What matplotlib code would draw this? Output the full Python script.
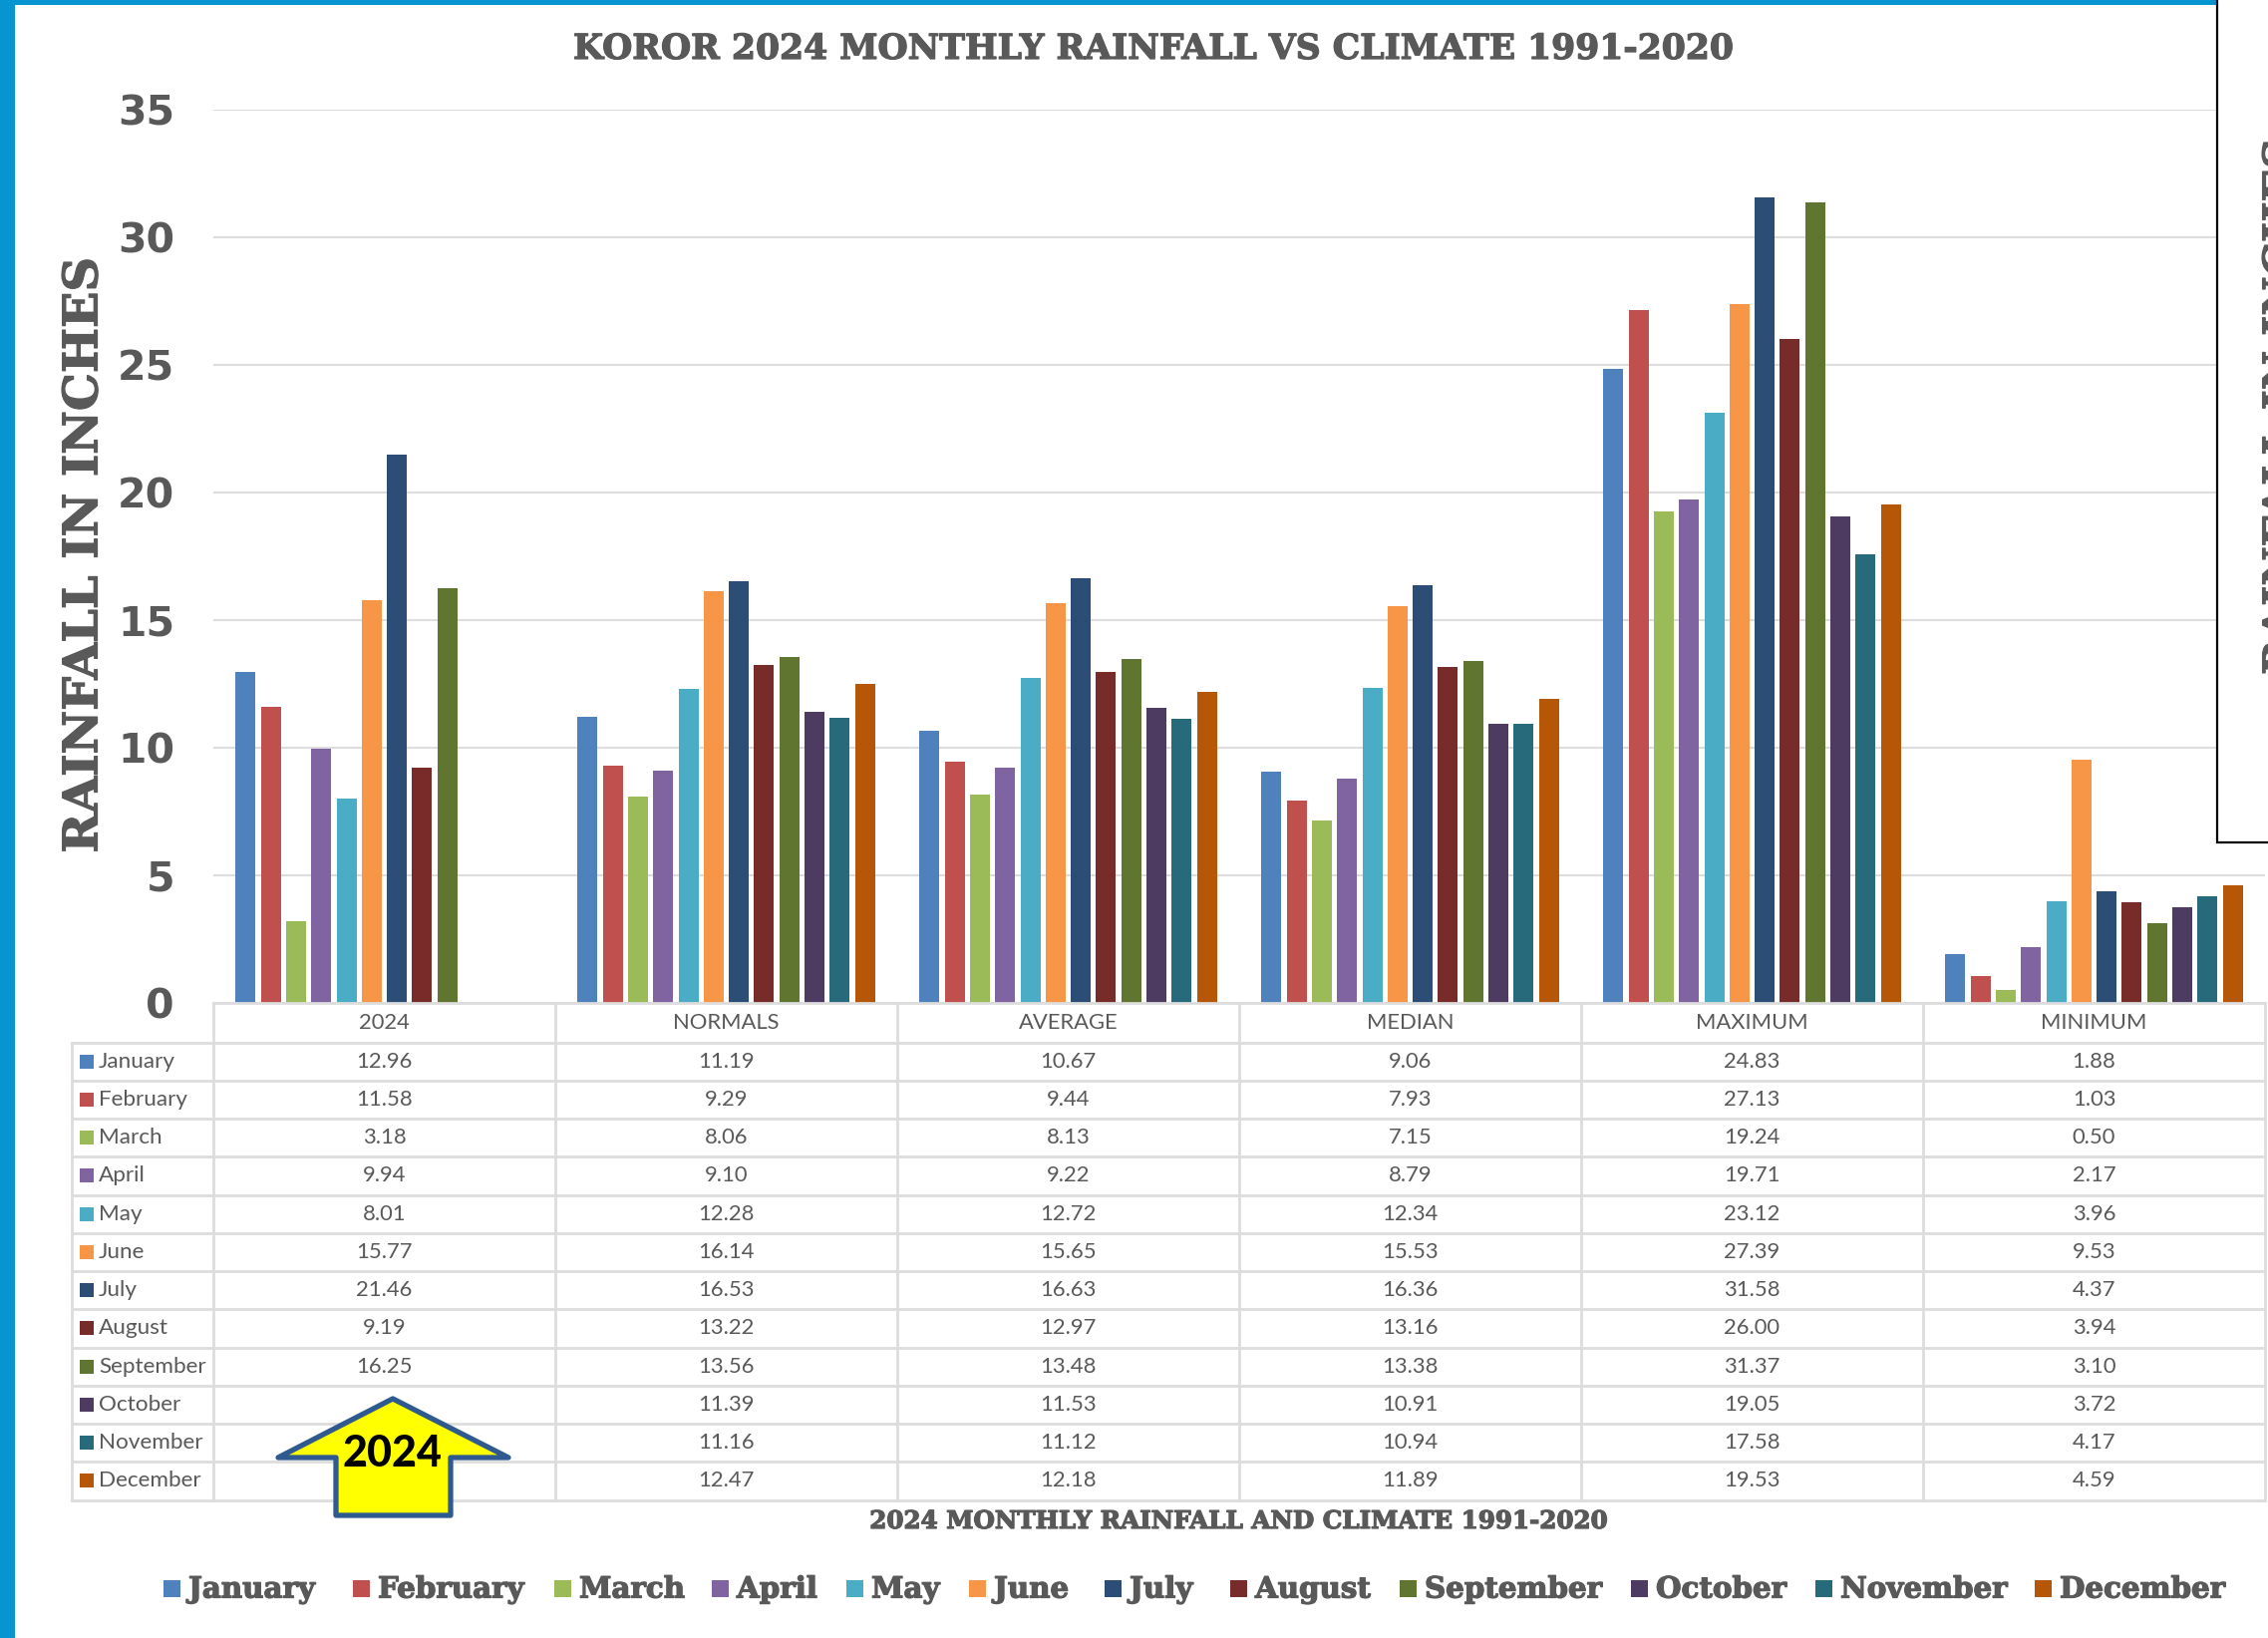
import numpy as np
import matplotlib
matplotlib.use('Agg')
import matplotlib.pyplot as plt
import matplotlib.patheffects as pe
from matplotlib.patches import Rectangle, Polygon

W, H = 2275, 1643

categories = ['2024', 'NORMALS', 'AVERAGE', 'MEDIAN', 'MAXIMUM', 'MINIMUM']
months = ['January', 'February', 'March', 'April', 'May', 'June', 'July',
          'August', 'September', 'October', 'November', 'December']

rain_2024 = [12.96, 11.58, 3.18, 9.94, 8.01, 15.77, 21.46, 9.19, 16.25, np.nan, np.nan, np.nan]
normals = [11.19, 9.29, 8.06, 9.10, 12.28, 16.14, 16.53, 13.22, 13.56, 11.39, 11.16, 12.47]
average = [10.67, 9.44, 8.13, 9.22, 12.72, 15.65, 16.63, 12.97, 13.48, 11.53, 11.12, 12.18]
median = [9.06, 7.93, 7.15, 8.79, 12.34, 15.53, 16.36, 13.16, 13.38, 10.91, 10.94, 11.89]
maximum = [24.83, 27.13, 19.24, 19.71, 23.12, 27.39, 31.58, 26.00, 31.37, 19.05, 17.58, 19.53]
minimum = [1.88, 1.03, 0.50, 2.17, 3.96, 9.53, 4.37, 3.94, 3.10, 3.72, 4.17, 4.59]

colors = ['#4F81BD', '#C0504D', '#9BBB59', '#8064A2', '#4BACC6', '#F79646',
          '#2C4D75', '#772C2A', '#5F7530', '#4D3B62', '#276A7C', '#B65708']

values = np.array([rain_2024, normals, average, median, maximum, minimum])

GREY = '#595959'
LINE = '#DDDDDD'
SLAB = 'DejaVu Serif'
BODY = 'Lato'

# the reference slab face is heavier than DejaVu Serif Bold
heavy = [pe.withStroke(linewidth=0.9, foreground=GREY)]

# pixel layout of the plot area and the table under it
left, right, top, base = 214, 2272, 110, 1005.5
table_left, header_bottom, row_h = 72, 1045.5, 38.25
col_w = (right - left) / 6

fig = plt.figure(figsize=(W / 100, H / 100), dpi=100, facecolor='white')
ax = fig.add_axes([left / W, 1 - base / H, (right - left) / W, (base - top) / H])

step = 25.3 / col_w
for m, month in enumerate(months):
    xs = np.arange(6) + 0.5 + (m - 5.5) * step
    ax.bar(xs, values[:, m], width=20 / col_w, color=colors[m], zorder=3)

ax.set_xlim(0, 6)
ax.set_ylim(0, 35)
ax.set_xticks([])
ax.set_yticks(range(0, 36, 5))
ax.tick_params(axis='y', length=0, pad=28, labelsize=29.5, labelcolor=GREY)
for lab in ax.get_yticklabels():
    lab.set_family('DejaVu Sans')
    lab.set_fontweight('bold')
ax.grid(axis='y', color=LINE, linewidth=1.5, zorder=0)
for s in ax.spines.values():
    s.set_visible(False)

# overlay in pixel coordinates for the data table and the annotations
ov = fig.add_axes([0, 0, 1, 1], facecolor='none')
ov.set_xlim(0, W)
ov.set_ylim(H, 0)
ov.axis('off')

# window edge
ov.add_patch(Rectangle((0, 0), 15, H, fc='#0795D2', ec='none'))
ov.add_patch(Rectangle((0, 0), W, 5, fc='#0795D2', ec='none'))

table_bottom = header_bottom + 12 * row_h
ov.plot([left, right], [base, base], color=LINE, lw=2)
ov.plot([left, left], [base, table_bottom], color=LINE, lw=2)
ov.plot([table_left, table_left], [header_bottom, table_bottom], color=LINE, lw=2)
for c in range(1, 7):
    ov.plot([left + c * col_w] * 2, [base, table_bottom], color=LINE, lw=2)
for r in range(13):
    y = header_bottom + r * row_h
    ov.plot([table_left, right], [y, y], color=LINE, lw=2)

for c, cat in enumerate(categories):
    ov.text(left + (c + 0.5) * col_w, (base + header_bottom) / 2, cat, ha='center', va='center',
            fontsize=15.8, color=GREY, family=BODY)
    for r in range(12):
        v = values[c, r]
        if not np.isnan(v):
            ov.text(left + (c + 0.5) * col_w, header_bottom + (r + 0.5) * row_h, f'{v:.2f}',
                    ha='center', va='center', fontsize=15.8, color=GREY, family=BODY)

for r, month in enumerate(months):
    yc = header_bottom + (r + 0.5) * row_h
    ov.add_patch(Rectangle((80, yc - 7), 14, 14, fc=colors[r], ec='none'))
    ov.text(99, yc, month, ha='left', va='center', fontsize=16.2, color=GREY, family=BODY)

# titles
ov.text(1158, 49, 'KOROR 2024 MONTHLY RAINFALL VS CLIMATE 1991-2020', ha='center', va='center',
        fontsize=24.9, fontweight='bold', color=GREY, family=SLAB, path_effects=heavy)
ov.text(1243, 1526, '2024 MONTHLY RAINFALL AND CLIMATE 1991-2020', ha='center', va='center',
        fontsize=17.7, fontweight='bold', color=GREY, family=SLAB, path_effects=heavy)
ov.text(84, 557, 'RAINFALL IN INCHES', rotation=90, ha='center', va='center',
        fontsize=34.4, fontweight='bold', color=GREY, family=SLAB, path_effects=heavy)

# legend along the bottom
legend_x = [164, 354, 556, 714, 849, 972, 1108, 1234, 1404, 1636, 1821, 2041]
for x, month, col in zip(legend_x, months, colors):
    ov.add_patch(Rectangle((x, 1585), 17, 17, fc=col, ec='none'))
    ov.text(x + 25, 1594, month, ha='left', va='center', fontsize=21.1, fontweight='bold',
            color=GREY, family=SLAB, path_effects=heavy)

# 2024 arrow
arrow = [(394, 1403), (510, 1462), (452, 1462), (452, 1520), (337, 1520), (337, 1462), (279, 1462)]
ov.add_patch(Polygon(arrow, closed=True, fc='#FFFF00', ec='#2F5A8F', lw=3.8, joinstyle='round', zorder=5))
ov.text(393, 1458, '2024', ha='center', va='center', fontsize=31, fontweight='black',
        color='black', family=BODY, zorder=6)

# pasted box covering the top right corner, with a copy of the axis title cut off by the edge
ov.add_patch(Rectangle((2224, -5), 80, 850, fc='white', ec='black', lw=1.6, zorder=7))
ov.text(2268, 408, 'RAINFALL IN INCHES', rotation=90, ha='left', va='center',
        fontsize=31, fontweight='bold', color=GREY, family=SLAB, zorder=8, path_effects=heavy)

fig.savefig('out.png', dpi=100)
